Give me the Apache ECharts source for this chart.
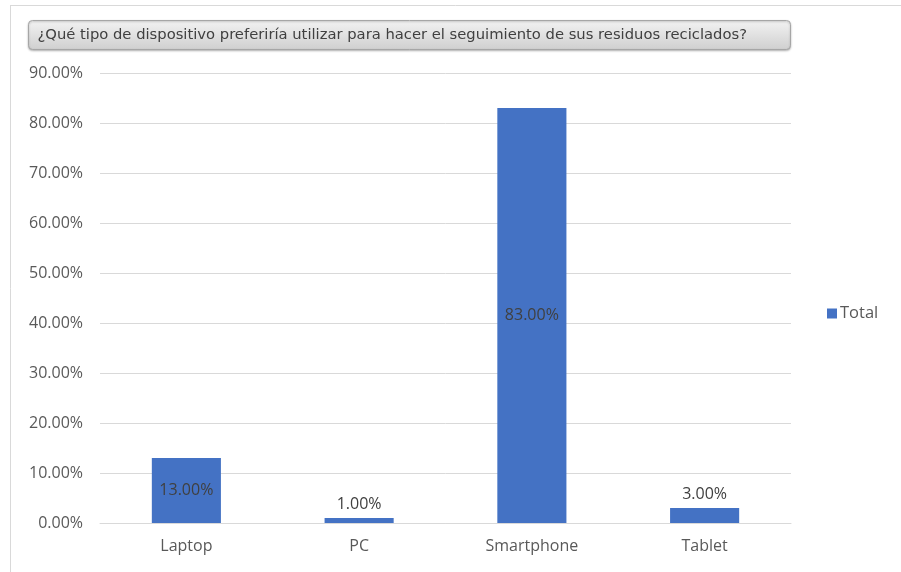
<!DOCTYPE html>
<html>
<head>
<meta charset="utf-8">
<script src="https://cdn.jsdelivr.net/npm/echarts@6/dist/echarts.min.js"></script>
<style>
  html, body { margin: 0; padding: 0; background: #fff; }
  #chart { width: 901px; height: 572px; }
</style>
</head>
<body>
<div id="chart"></div>
<script>
// Survey results: preferred device for tracking recycled waste
const titleText = '¿Qué tipo de dispositivo preferiría utilizar para hacer el seguimiento de sus residuos reciclados?';
const categories = ['Laptop', 'PC', 'Smartphone', 'Tablet'];
const totalValues = [13, 1, 83, 3];
const seriesName = 'Total';
const yTicksMax = 90;
const yTickStep = 10;

// Large bars carry their label inside, small ones above
const insideThreshold = 10;

const chart = echarts.init(document.getElementById('chart'), null, { renderer: 'canvas' });

const axisFont = '"Open Sans", "Noto Sans", sans-serif';

chart.setOption({
  animation: false,
  backgroundColor: '#ffffff',
  grid: { left: 100, right: 110, top: 73, bottom: 49, containLabel: false },
  legend: {
    data: [seriesName],
    orient: 'vertical',
    left: 822,
    top: 300,
    itemWidth: 10,
    itemHeight: 10,
    itemGap: 4,
    textStyle: { color: '#595959', fontSize: 16.5, fontFamily: axisFont, padding: [0, 0, 0, -2] },
    icon: 'rect'
  },
  xAxis: {
    type: 'category',
    data: categories,
    axisLine: { show: true, lineStyle: { color: '#d9d9d9', width: 1 } },
    axisTick: { show: false },
    axisLabel: { color: '#595959', fontSize: 16, fontFamily: axisFont, margin: 15 }
  },
  yAxis: {
    type: 'value',
    min: 0,
    max: yTicksMax,
    interval: yTickStep,
    axisLine: { show: false },
    axisTick: { show: false },
    splitLine: { lineStyle: { color: '#d9d9d9', width: 1 } },
    axisLabel: {
      color: '#595959', fontSize: 16, fontFamily: axisFont, margin: 17,
      formatter: v => v.toFixed(2) + '%'
    }
  },
  series: [{
    name: seriesName,
    type: 'bar',
    data: totalValues.map(v => ({
      value: v,
      label: { position: v > insideThreshold ? 'inside' : 'top' }
    })),
    barWidth: '40%',
    itemStyle: { color: '#4472c4' },
    label: {
      show: true,
      color: '#404040',
      fontSize: 16,
      fontFamily: axisFont,
      distance: 6,
      formatter: p => p.value.toFixed(2) + '%'
    }
  }],
  graphic: [
    // outer frame edges
    { type: 'line', shape: { x1: 10, y1: 5.5, x2: 901, y2: 5.5 }, style: { stroke: '#d9d9d9', lineWidth: 1 }, silent: true },
    { type: 'line', shape: { x1: 10.5, y1: 5, x2: 10.5, y2: 572 }, style: { stroke: '#d9d9d9', lineWidth: 1 }, silent: true },
    // title banner
    {
      type: 'group',
      left: 28,
      top: 20,
      children: [
        {
          type: 'rect',
          shape: { x: 0, y: 0, width: 762, height: 29, r: 4 },
          style: {
            fill: new echarts.graphic.LinearGradient(0, 0, 0, 1, [
              { offset: 0, color: '#f3f3f3' },
              { offset: 1, color: '#cfcfcf' }
            ]),
            stroke: '#a6a6a6',
            lineWidth: 1,
            shadowBlur: 2,
            shadowColor: 'rgba(0,0,0,0.25)',
            shadowOffsetY: 1
          }
        },
        {
          type: 'text',
          x: 9,
          y: 15,
          style: {
            text: titleText,
            fill: '#404040',
            fontSize: 14.75,
            fontFamily: '"DejaVu Sans", Verdana, sans-serif',
            verticalAlign: 'middle'
          }
        }
      ]
    }
  ]
});
</script>
</body>
</html>
